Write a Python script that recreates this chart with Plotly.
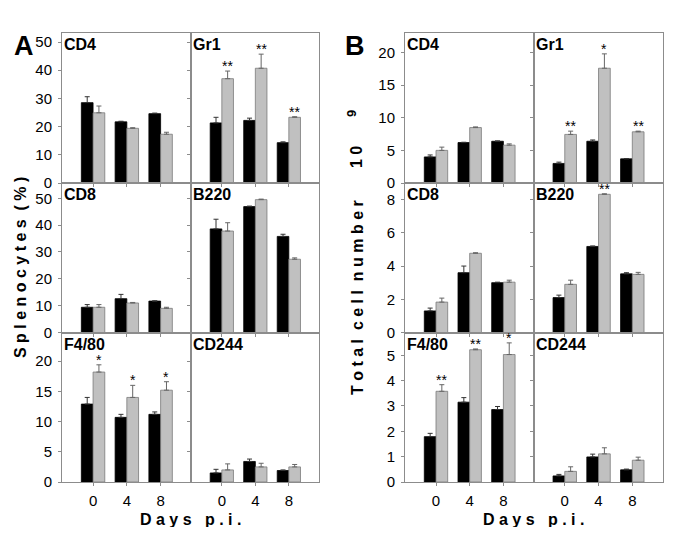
import plotly.graph_objects as go

# page body adds an 8px margin, so the figure is drawn 8px lower/right
PAGE = 8
W, H = 685 - 2 * PAGE, 535 - 2 * PAGE
days = ["0", "4", "8"]

# ---------------- Panel A : Splenocytes (%) ----------------
A_CD4_ctrl = [28.5, 21.7, 24.6]
A_CD4_ctrl_err = [2.1, 0.2, 0.2]
A_CD4_inf = [24.9, 19.4, 17.3]
A_CD4_inf_err = [2.4, 0.2, 0.7]
A_CD4_stars = ["", "", ""]

A_Gr1_ctrl = [21.3, 22.2, 14.3]
A_Gr1_ctrl_err = [2.0, 0.8, 0.3]
A_Gr1_inf = [37.0, 40.7, 23.3]
A_Gr1_inf_err = [2.7, 5.0, 0.2]
A_Gr1_stars = ["**", "**", "**"]

A_CD8_ctrl = [9.4, 12.6, 11.7]
A_CD8_ctrl_err = [1.0, 1.6, 0.1]
A_CD8_inf = [9.4, 11.0, 9.0]
A_CD8_inf_err = [1.0, 0.2, 0.4]
A_CD8_stars = ["", "", ""]

A_B220_ctrl = [38.6, 46.9, 35.8]
A_B220_ctrl_err = [3.6, 0.2, 0.8]
A_B220_inf = [37.8, 49.5, 27.3]
A_B220_inf_err = [3.1, 0.2, 0.5]
A_B220_stars = ["", "", ""]

A_F480_ctrl = [12.9, 10.7, 11.2]
A_F480_ctrl_err = [1.1, 0.5, 0.4]
A_F480_inf = [18.2, 14.0, 15.2]
A_F480_inf_err = [1.2, 2.0, 1.4]
A_F480_stars = ["*", "*", "*"]

A_CD244_ctrl = [1.5, 3.4, 1.9]
A_CD244_ctrl_err = [0.6, 0.4, 0.1]
A_CD244_inf = [2.0, 2.5, 2.5]
A_CD244_inf_err = [1.0, 0.6, 0.4]
A_CD244_stars = ["", "", ""]

# ---------------- Panel B : Total cell number (x10^9) ----------------
B_CD4_ctrl = [4.0, 6.2, 6.4]
B_CD4_ctrl_err = [0.3, 0.05, 0.05]
B_CD4_inf = [5.0, 8.5, 5.8]
B_CD4_inf_err = [0.5, 0.1, 0.2]
B_CD4_stars = ["", "", ""]

B_Gr1_ctrl = [3.0, 6.4, 3.7]
B_Gr1_ctrl_err = [0.2, 0.2, 0.05]
B_Gr1_inf = [7.45, 17.6, 7.85]
B_Gr1_inf_err = [0.5, 2.2, 0.1]
B_Gr1_stars = ["**", "*", "**"]

B_CD8_ctrl = [1.3, 3.6, 3.0]
B_CD8_ctrl_err = [0.17, 0.4, 0.03]
B_CD8_inf = [1.83, 4.77, 3.03]
B_CD8_inf_err = [0.24, 0.03, 0.12]
B_CD8_stars = ["", "", ""]

B_B220_ctrl = [2.1, 5.18, 3.53]
B_B220_ctrl_err = [0.15, 0.03, 0.07]
B_B220_inf = [2.9, 8.32, 3.5]
B_B220_inf_err = [0.25, 0.03, 0.12]
B_B220_stars = ["", "**", ""]

B_F480_ctrl = [1.79, 3.15, 2.86]
B_F480_ctrl_err = [0.13, 0.18, 0.12]
B_F480_inf = [3.58, 5.22, 5.03]
B_F480_inf_err = [0.26, 0.03, 0.46]
B_F480_stars = ["**", "**", "*"]

B_CD244_ctrl = [0.24, 0.99, 0.48]
B_CD244_ctrl_err = [0.06, 0.11, 0.03]
B_CD244_inf = [0.42, 1.11, 0.86]
B_CD244_inf_err = [0.18, 0.24, 0.12]
B_CD244_stars = ["", "", ""]

cell_labels = ["CD4", "Gr1", "CD8", "B220", "F4/80", "CD244"]

A_sets = [
    (A_CD4_ctrl, A_CD4_ctrl_err, A_CD4_inf, A_CD4_inf_err, A_CD4_stars),
    (A_Gr1_ctrl, A_Gr1_ctrl_err, A_Gr1_inf, A_Gr1_inf_err, A_Gr1_stars),
    (A_CD8_ctrl, A_CD8_ctrl_err, A_CD8_inf, A_CD8_inf_err, A_CD8_stars),
    (A_B220_ctrl, A_B220_ctrl_err, A_B220_inf, A_B220_inf_err, A_B220_stars),
    (A_F480_ctrl, A_F480_ctrl_err, A_F480_inf, A_F480_inf_err, A_F480_stars),
    (A_CD244_ctrl, A_CD244_ctrl_err, A_CD244_inf, A_CD244_inf_err, A_CD244_stars),
]
B_sets = [
    (B_CD4_ctrl, B_CD4_ctrl_err, B_CD4_inf, B_CD4_inf_err, B_CD4_stars),
    (B_Gr1_ctrl, B_Gr1_ctrl_err, B_Gr1_inf, B_Gr1_inf_err, B_Gr1_stars),
    (B_CD8_ctrl, B_CD8_ctrl_err, B_CD8_inf, B_CD8_inf_err, B_CD8_stars),
    (B_B220_ctrl, B_B220_ctrl_err, B_B220_inf, B_B220_inf_err, B_B220_stars),
    (B_F480_ctrl, B_F480_ctrl_err, B_F480_inf, B_F480_inf_err, B_F480_stars),
    (B_CD244_ctrl, B_CD244_ctrl_err, B_CD244_inf, B_CD244_inf_err, B_CD244_stars),
]

A_yranges = [53.2, 55.7, 24.75]
A_dticks = [10, 10, 5]
B_yranges = [23.0, 9.0, 5.9]
B_dticks = [5, 2, 1]

# ---------------- geometry (window pixels) ----------------
A_cols = [(62, 191), (191, 319)]
B_cols = [(405, 533.7), (533.7, 662.7)]
rows_px = [(33, 183), (183, 332.5), (332.5, 482)]
XR = [-0.92, 2.9]


def fx(px):
    return (px - PAGE) / W


def fy(px):
    return 1 - (px - PAGE) / H


FONT = "Liberation Sans, Arial, sans-serif"
LINE = "#8c8c8c"
GRAY = "#c0c0c0"
BARGAP = 0.306

fig = go.Figure()
layout = dict(
    width=W, height=H,
    margin=dict(l=0, r=0, t=0, b=0),
    paper_bgcolor="white", plot_bgcolor="white",
    showlegend=False, barmode="group", bargap=BARGAP, bargroupgap=0,
    font=dict(family=FONT, color="black"),
)
annotations = []


def add_panel(sets, cols, yranges, dticks, k0):
    for idx, (ctrl, cerr, inf, ierr, stars) in enumerate(sets):
        r, c = divmod(idx, 2)
        k = k0 + idx
        xs = "" if k == 1 else str(k)
        x0, x1 = cols[c]
        y0, y1 = rows_px[r]
        layout["xaxis" + xs] = dict(
            domain=[fx(x0), fx(x1)], anchor="y" + xs, type="category",
            categoryorder="array", categoryarray=days, range=XR,
            showline=True, mirror=True, linecolor=LINE, linewidth=1,
            ticks="outside", ticklen=3, tickcolor=LINE,
            showticklabels=(r == 2), ticklabelstandoff=2,
            tickfont=dict(size=15, family=FONT, color="black"),
            showgrid=False, zeroline=False, automargin=False, fixedrange=True,
        )
        layout["yaxis" + xs] = dict(
            domain=[fy(y1), fy(y0)], anchor="x" + xs,
            range=[0, yranges[r]], tick0=0, dtick=dticks[r],
            showline=True, mirror=True, linecolor=LINE, linewidth=1,
            ticks="outside", ticklen=3, tickcolor=LINE,
            showticklabels=(c == 0), ticklabelstandoff=3,
            tickfont=dict(size=15, family=FONT, color="black"),
            showgrid=False, zeroline=False, automargin=False, fixedrange=True,
        )
        fig.add_trace(go.Bar(
            x=days, y=ctrl, xaxis="x" + xs, yaxis="y" + xs,
            marker=dict(color="black", line=dict(color="black", width=0.8)),
            error_y=dict(type="data", symmetric=False, array=cerr,
                         arrayminus=[0] * len(cerr), color="#333333",
                         thickness=1, width=2.5),
        ))
        fig.add_trace(go.Bar(
            x=days, y=inf, xaxis="x" + xs, yaxis="y" + xs,
            marker=dict(color=GRAY, line=dict(color="#7a7a7a", width=0.8)),
            error_y=dict(type="data", symmetric=False, array=ierr,
                         arrayminus=[0] * len(ierr), color="#666666",
                         thickness=1, width=2.5),
        ))
        # offset of the second bar of each group, in category units
        off = (1 - BARGAP) / 4
        for i, s in enumerate(stars):
            if s:
                annotations.append(dict(
                    x=i + off, y=inf[i] + ierr[i], xref="x" + xs, yref="y" + xs,
                    text=s, showarrow=False, xanchor="center", yanchor="bottom",
                    yshift=-5,
                    font=dict(size=14, family=FONT, color="black"),
                ))
        annotations.append(dict(
            x=0, y=1, xref="x" + xs + " domain", yref="y" + xs + " domain",
            text="<b>" + cell_labels[idx] + "</b>", showarrow=False,
            xanchor="left", yanchor="top", xshift=0, yshift=-1,
            font=dict(size=16, family=FONT, color="black"),
        ))


add_panel(A_sets, A_cols, A_yranges, A_dticks, 1)
add_panel(B_sets, B_cols, B_yranges, B_dticks, 7)

# panel letters
annotations.append(dict(x=fx(24), y=fy(46), xref="paper", yref="paper",
                        text="<b>A</b>", showarrow=False, xanchor="center",
                        yanchor="middle", font=dict(size=27, family=FONT)))
annotations.append(dict(x=fx(355), y=fy(46), xref="paper", yref="paper",
                        text="<b>B</b>", showarrow=False, xanchor="center",
                        yanchor="middle", font=dict(size=27, family=FONT)))

# axis titles
annotations.append(dict(x=fx(20), y=fy(268), xref="paper", yref="paper",
                        text="<b>S p l e n o c y t e s  ( % )</b>",
                        showarrow=False, textangle=-90, xanchor="center",
                        yanchor="middle", font=dict(size=16, family=FONT)))
annotations.append(dict(x=fx(357), y=fy(298), xref="paper", yref="paper",
                        text="<b>T o t a l  c e l l  n u m b e r</b>",
                        showarrow=False, textangle=-90, xanchor="center",
                        yanchor="middle", font=dict(size=16, family=FONT)))
annotations.append(dict(x=fx(357), y=fy(157), xref="paper", yref="paper",
                        text="<b>1 0</b>",
                        showarrow=False, textangle=-90, xanchor="center",
                        yanchor="middle", font=dict(size=16, family=FONT)))
annotations.append(dict(x=fx(352), y=fy(114), xref="paper", yref="paper",
                        text="<b>9</b>",
                        showarrow=False, textangle=-90, xanchor="center",
                        yanchor="middle", font=dict(size=13, family=FONT)))
for cx in (190.5, 533.8):
    annotations.append(dict(x=fx(cx), y=fy(519), xref="paper", yref="paper",
                            text="<b>D a y s   p . i .</b>", showarrow=False,
                            xanchor="center", yanchor="middle",
                            font=dict(size=16, family=FONT)))

layout["annotations"] = annotations
fig.update_layout(**layout)
fig.write_html("out.html")
